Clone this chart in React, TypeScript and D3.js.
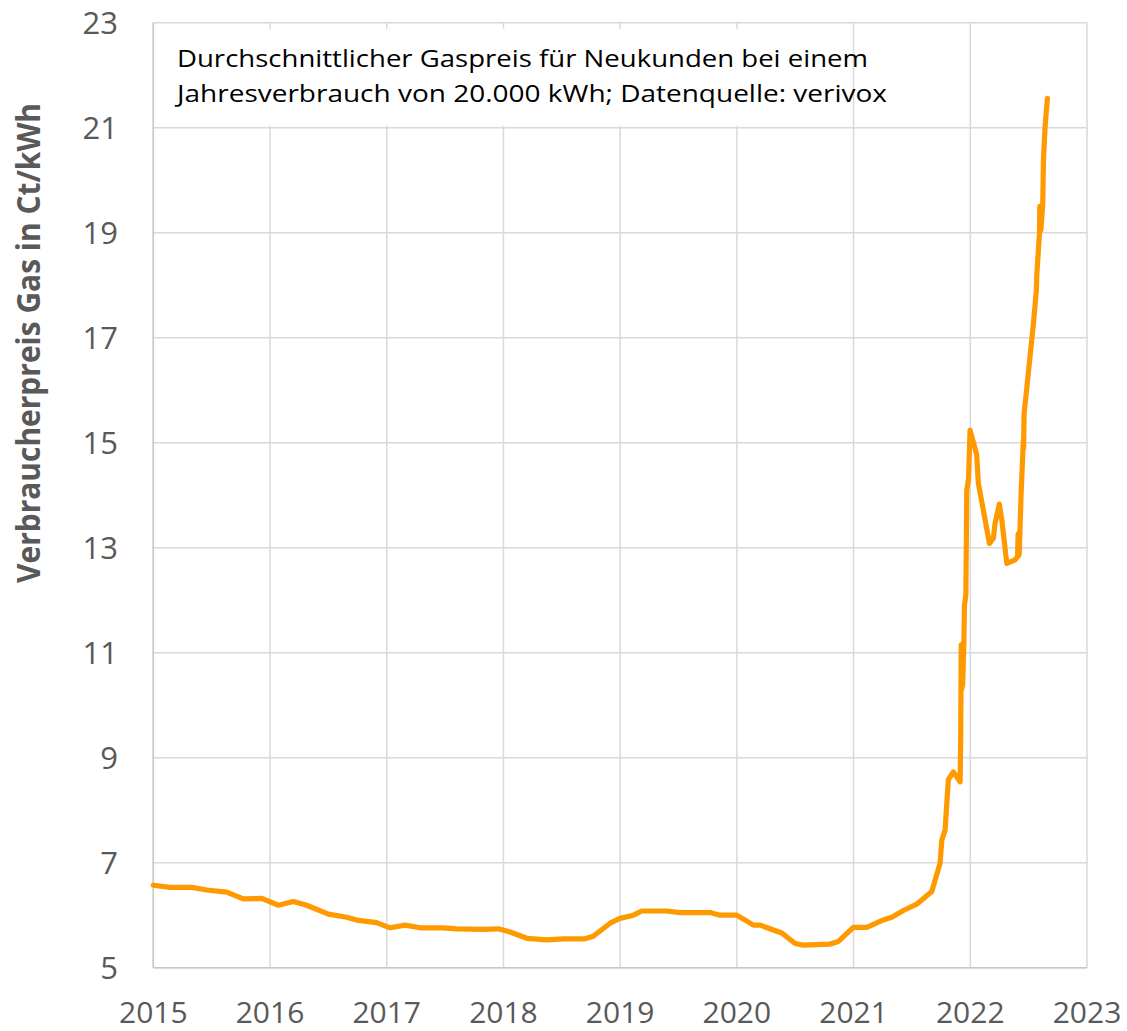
import React from "react";
import * as d3 from "d3";

// decimal year of each observation
const dates: number[] = [
  2015.0, 2015.143, 2015.329, 2015.458, 2015.629, 2015.771, 2015.929,
  2016.071, 2016.2, 2016.314, 2016.5, 2016.657, 2016.757, 2016.914,
  2017.028, 2017.157, 2017.285, 2017.485, 2017.6, 2017.828, 2017.956,
  2018.057, 2018.2, 2018.371, 2018.513, 2018.699, 2018.77, 2018.922,
  2018.999, 2019.113, 2019.185, 2019.399, 2019.513, 2019.77, 2019.856,
  2019.999, 2020.07, 2020.141, 2020.199, 2020.385, 2020.499, 2020.57,
  2020.799, 2020.87, 2020.998, 2021.113, 2021.255, 2021.327, 2021.427,
  2021.541, 2021.67, 2021.741, 2021.756, 2021.784, 2021.812, 2021.855,
  2021.913, 2021.918, 2021.922, 2021.926, 2021.935, 2021.945, 2021.95,
  2021.962, 2021.97, 2021.985, 2021.998, 2022.055, 2022.069, 2022.127,
  2022.164, 2022.198, 2022.212, 2022.249, 2022.27, 2022.313, 2022.384,
  2022.405, 2022.41, 2022.415, 2022.42, 2022.435, 2022.455, 2022.457,
  2022.461, 2022.48, 2022.541, 2022.566, 2022.57, 2022.593, 2022.596,
  2022.605, 2022.621, 2022.627, 2022.641, 2022.661,
];

// average consumer gas price, ct/kWh
const prices: number[] = [
  6.57, 6.53, 6.53, 6.48, 6.44, 6.31, 6.32,
  6.19, 6.26, 6.19, 6.02, 5.96, 5.9, 5.86,
  5.76, 5.81, 5.76, 5.76, 5.74, 5.73, 5.74,
  5.68, 5.56, 5.53, 5.55, 5.55, 5.6, 5.86,
  5.94, 6.0, 6.08, 6.08, 6.05, 6.05, 6.0,
  6.0, 5.91, 5.81, 5.81, 5.66, 5.46, 5.43,
  5.45, 5.5, 5.77, 5.77, 5.91, 5.96, 6.09,
  6.21, 6.45, 6.99, 7.43, 7.62, 8.58, 8.73,
  8.54, 9.4, 11.15, 10.3, 10.4, 11.2, 11.9,
  12.1, 14.1, 14.3, 15.24, 14.77, 14.23, 13.53,
  13.08, 13.18, 13.46, 13.83, 13.53, 12.7, 12.77,
  12.83, 13.27, 12.85, 12.9, 14.0, 15.05, 14.9,
  15.56, 15.95, 17.27, 17.9, 18.2, 19.0, 19.5,
  19.05, 19.56, 20.39, 21.02, 21.56,
];

const yearTicks: number[] = [2015, 2016, 2017, 2018, 2019, 2020, 2021, 2022, 2023];
const priceTicks: number[] = [5, 7, 9, 11, 13, 15, 17, 19, 21, 23];

const yLabel = "Verbraucherpreis Gas in Ct/kWh";
const noteLines: string[] = [
  "Durchschnittlicher Gaspreis für Neukunden bei einem",
  "Jahresverbrauch von 20.000 kWh; Datenquelle: verivox",
];

const W = 1127;
const H = 1031;
const margin = { left: 153.3, right: 1087, top: 22.7, bottom: 967.7 };
const FONT = "'Open Sans', 'Noto Sans', sans-serif";

export default function App() {
  const x = d3.scaleLinear().domain([2015, 2023]).range([margin.left, margin.right]);
  const y = d3.scaleLinear().domain([5, 23]).range([margin.bottom, margin.top]);
  const pts = dates.map((d, i) => [d, prices[i]] as [number, number]);
  const line = d3
    .line<[number, number]>()
    .x((d) => x(d[0]))
    .y((d) => y(d[1]));

  return (
    <svg
      width={W}
      height={H}
      style={{ position: "absolute", left: 0, top: 0, background: "#fff" }}
      fontFamily={FONT}
    >
      <rect x={0} y={0} width={W} height={H} fill="#fff" />
      {/* horizontal gridlines */}
      {priceTicks.map((t) => (
        <line
          key={"h" + t}
          x1={x(2015)}
          x2={x(2023)}
          y1={y(t)}
          y2={y(t)}
          stroke="#d9d9d9"
          strokeWidth={1.5}
        />
      ))}
      {/* vertical gridlines */}
      {yearTicks.map((t) => (
        <line
          key={"v" + t}
          x1={x(t)}
          x2={x(t)}
          y1={y(23)}
          y2={y(5)}
          stroke="#d9d9d9"
          strokeWidth={1.5}
        />
      ))}
      {/* text box covering gridlines */}
      <rect x={x(2015) + 2} y={y(23) + 6} width={x(2021) - x(2015) - 8} height={y(21) - y(23) - 8} fill="#fff" />
      {noteLines.map((s, i) => (
        <text
          key={"n" + i}
          x={177}
          y={67 + i * 35}
          fontSize={24}
          fill="#000"
          textLength={i === 0 ? 691 : 710}
          lengthAdjust="spacingAndGlyphs"
        >
          {s}
        </text>
      ))}
      {/* axis lines */}
      <line x1={x(2015)} x2={x(2023)} y1={y(5)} y2={y(5)} stroke="#c8c8c8" strokeWidth={1.5} />
      <line x1={x(2015)} x2={x(2015)} y1={y(23)} y2={y(5)} stroke="#c8c8c8" strokeWidth={1.5} />
      {/* series */}
      <path
        d={line(pts) || ""}
        fill="none"
        stroke="#FF9900"
        strokeWidth={5.2}
        strokeLinejoin="round"
        strokeLinecap="round"
      />
      {/* y tick labels */}
      {priceTicks.map((t) => (
        <text key={"yl" + t} x={118} y={y(t) + 11} textAnchor="end" fontSize={31} fill="#595959">
          {t}
        </text>
      ))}
      {/* x tick labels */}
      {yearTicks.map((t) => (
        <text key={"xl" + t} x={x(t)} y={1023} textAnchor="middle" fontSize={30} fill="#595959">
          {t}
        </text>
      ))}
      {/* y axis title */}
      <text
        transform={`translate(40, 343) rotate(-90)`}
        textAnchor="middle"
        fontSize={32}
        fontWeight="bold"
        fill="#595959"
        textLength={480}
        lengthAdjust="spacingAndGlyphs"
      >
        {yLabel}
      </text>
    </svg>
  );
}
